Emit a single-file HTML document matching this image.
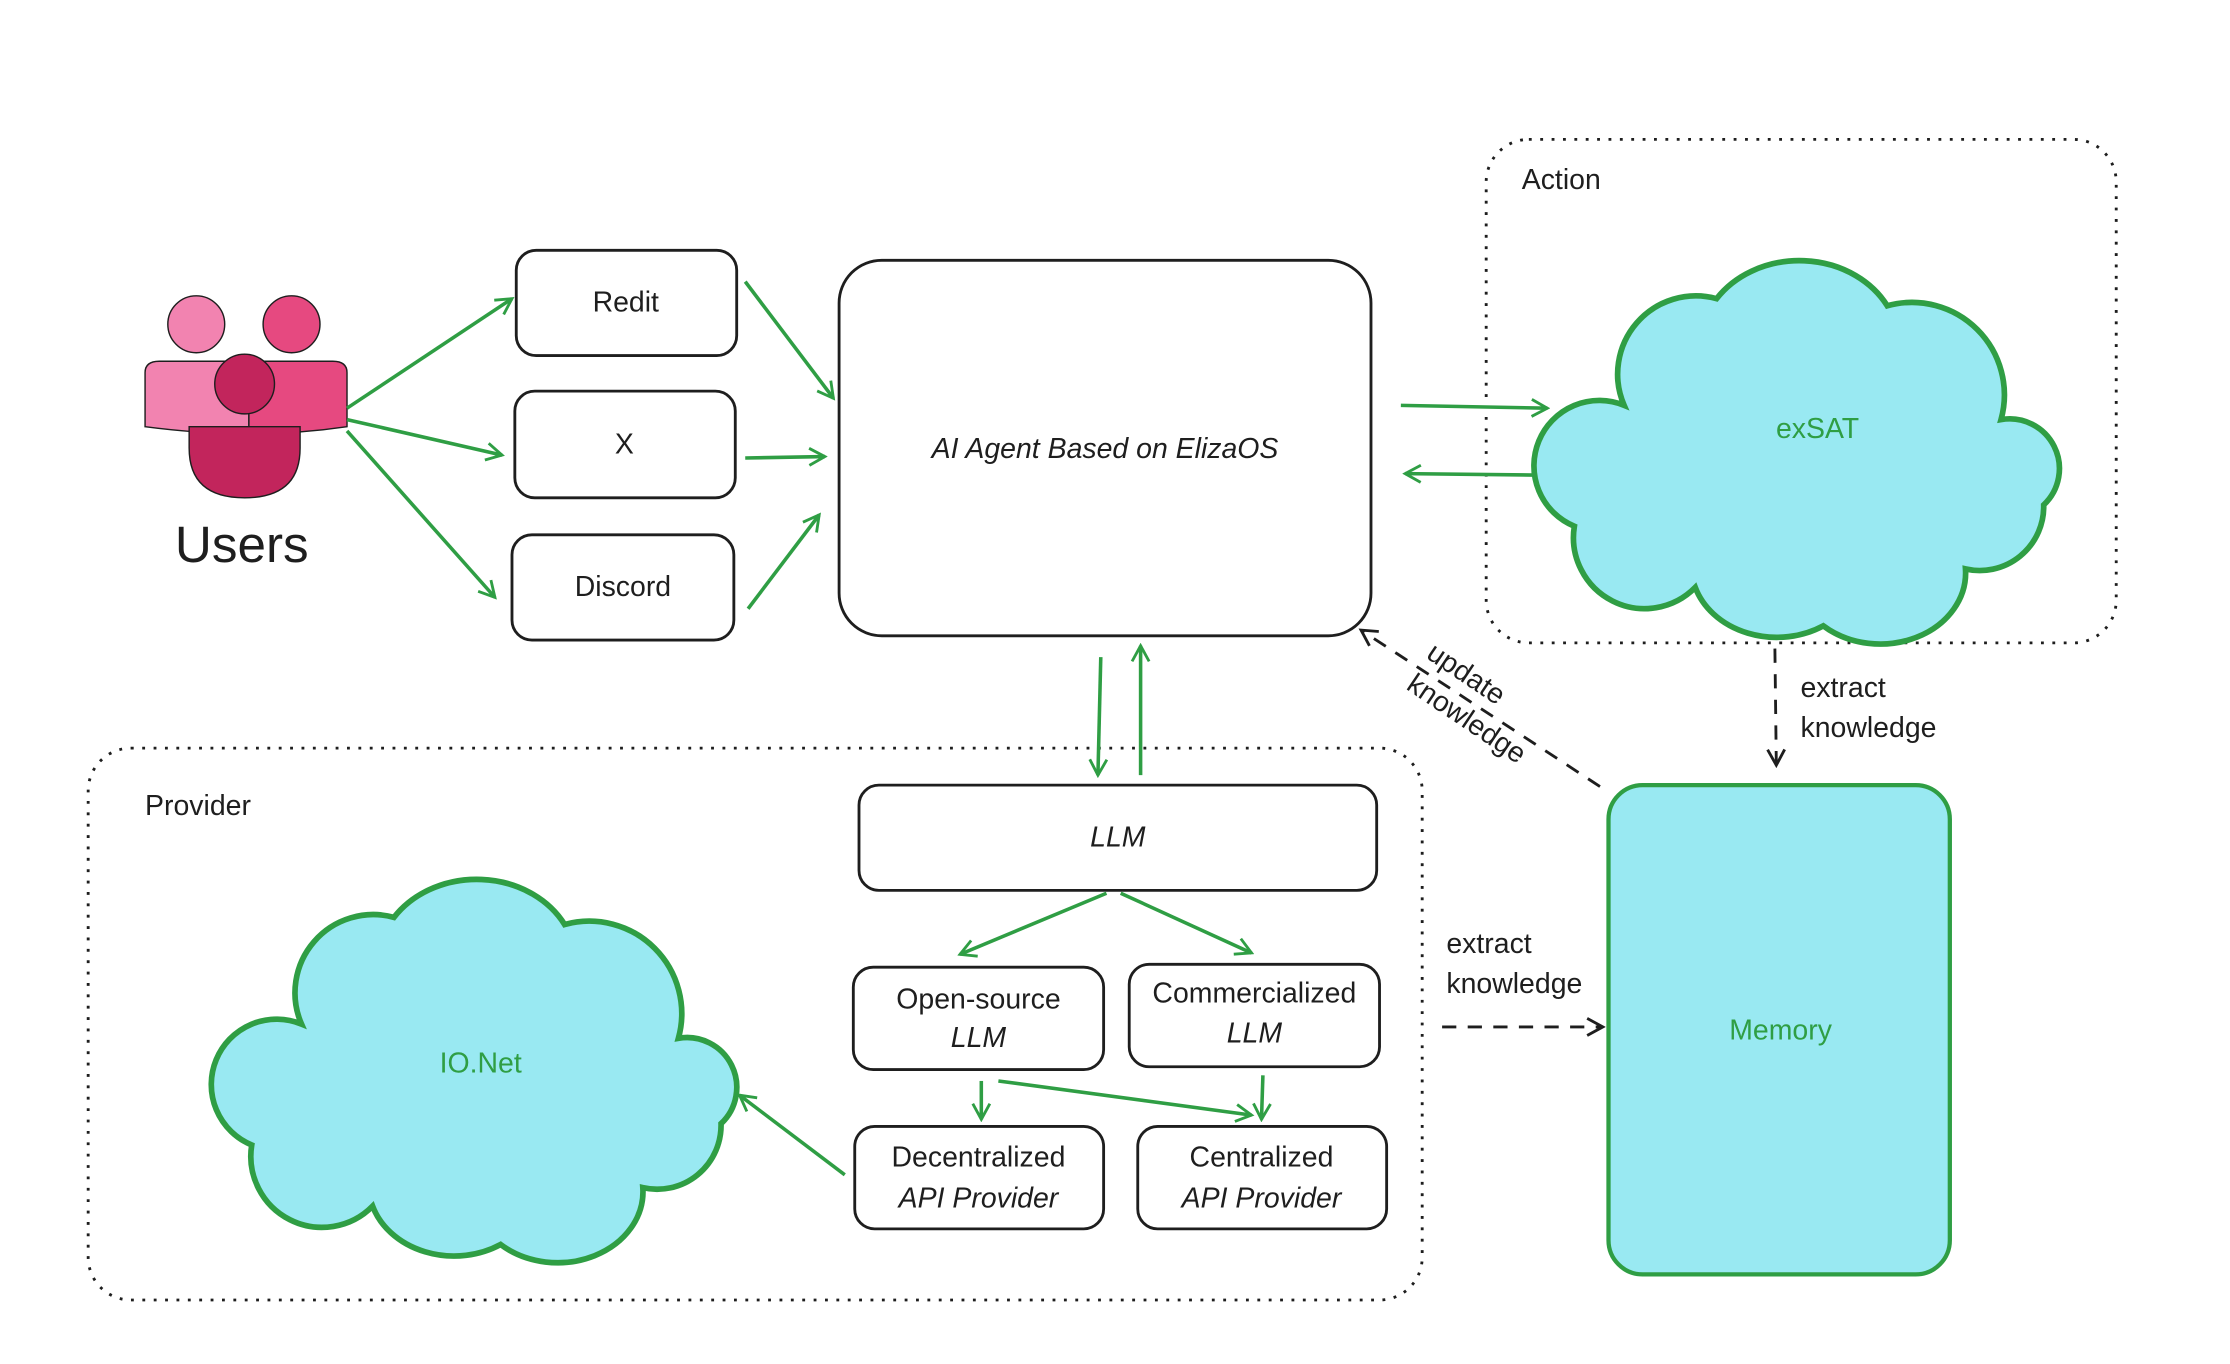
<!DOCTYPE html>
<html><head><meta charset="utf-8"><style>
html,body{margin:0;padding:0;background:#fff;}
svg{display:block;}
text{font-family:"Liberation Sans",sans-serif;fill:#1e1e1e;}
</style></head><body>
<svg width="2230" height="1364" viewBox="0 0 1568 959" preserveAspectRatio="none" xmlns="http://www.w3.org/2000/svg">
<defs>
<marker id="ag" markerWidth="14" markerHeight="14" refX="12" refY="7" orient="auto" markerUnits="userSpaceOnUse"><path d="M1,1 L12,7 L1,13" fill="none" stroke="#2f9e44" stroke-width="2"/></marker>
<marker id="ak" markerWidth="14" markerHeight="14" refX="12" refY="7" orient="auto" markerUnits="userSpaceOnUse"><path d="M1,1 L12,7 L1,13" fill="none" stroke="#1e1e1e" stroke-width="2"/></marker>
<path id="cloud" d="M60,100 A55 55 0 0 1 125,25 A70 60 0 0 1 245,30 A65 65 0 0 1 325,110 A35 35 0 0 1 355,170 A45 45 0 0 1 300,215 A60 50 0 0 1 200,255 A60 50 0 0 1 110,228 A50 50 0 0 1 25,185 A40 40 0 0 1 60,100 Z"/>
</defs>
<rect x="1045" y="98" width="443" height="354" rx="30" fill="none" stroke="#1e1e1e" stroke-width="2" stroke-dasharray="2 6"/>
<text x="1070" y="133" font-size="20">Action</text>
<rect x="62" y="526" width="938" height="388" rx="30" fill="none" stroke="#1e1e1e" stroke-width="2" stroke-dasharray="2 6"/>
<text x="102" y="573" font-size="20">Provider</text>
<circle cx="138" cy="228" r="20" fill="#f283b0" stroke="#1e1e1e" stroke-width="1"/>
<circle cx="205" cy="228" r="20" fill="#e64980" stroke="#1e1e1e" stroke-width="1"/>
<path d="M102,300 L102,262 Q102,254 112,254 L175,254 L175,305 Q140,305 102,300Z" fill="#f283b0" stroke="#1e1e1e" stroke-width="1"/>
<path d="M175,254 L234,254 Q244,254 244,262 L244,300 Q210,305 175,305Z" fill="#e64980" stroke="#1e1e1e" stroke-width="1"/>
<circle cx="172" cy="270" r="21" fill="#c2255c" stroke="#1e1e1e" stroke-width="1"/>
<path d="M133,300 L211,300 L211,315 Q211,350 172,350 Q133,350 133,315Z" fill="#c2255c" stroke="#1e1e1e" stroke-width="1"/>
<text x="170" y="395" font-size="36" text-anchor="middle">Users</text>
<g fill="#fff" stroke="#1e1e1e" stroke-width="2">
<rect x="363" y="176" width="155" height="74" rx="14"/>
<rect x="362" y="275" width="155" height="75" rx="14"/>
<rect x="360" y="376" width="156" height="74" rx="14"/>
<rect x="590" y="183" width="374" height="264" rx="30"/>
<rect x="604" y="552" width="364" height="74" rx="14"/>
<rect x="600" y="680" width="176" height="72" rx="14"/>
<rect x="794" y="678" width="176" height="72" rx="14"/>
<rect x="601" y="792" width="175" height="72" rx="14"/>
<rect x="800" y="792" width="175" height="72" rx="14"/>
</g>
<g font-size="20" text-anchor="middle">
<text x="440" y="219">Redit</text>
<text x="439" y="319">X</text>
<text x="438" y="419">Discord</text>
<text x="777" y="322" font-style="italic">AI Agent Based on ElizaOS</text>
<text x="786" y="595" font-style="italic">LLM</text>
<text x="688" y="709">Open-source</text><text x="688" y="736" font-style="italic">LLM</text>
<text x="882" y="705">Commercialized</text><text x="882" y="733" font-style="italic">LLM</text>
<text x="688" y="820">Decentralized</text><text x="688" y="849" font-style="italic">API Provider</text>
<text x="887" y="820">Centralized</text><text x="887" y="849" font-style="italic">API Provider</text>
</g>
<use href="#cloud" transform="translate(1082,185)" fill="#99e9f2" stroke="#2f9e44" stroke-width="4"/>
<text x="1278" y="308" font-size="20" text-anchor="middle" style="fill:#2f9e44">exSAT</text>
<use href="#cloud" transform="translate(152,620)" fill="#99e9f2" stroke="#2f9e44" stroke-width="4"/>
<text x="338" y="754" font-size="20" text-anchor="middle" style="fill:#2f9e44">IO.Net</text>
<rect x="1131" y="552" width="240" height="344" rx="24" fill="#99e9f2" stroke="#2f9e44" stroke-width="3"/>
<text x="1252" y="731" font-size="20" text-anchor="middle" style="fill:#2f9e44">Memory</text>
<g stroke="#2f9e44" stroke-width="2.5" fill="none" marker-end="url(#ag)">
<line x1="244" y1="287" x2="360" y2="210"/>
<line x1="244" y1="295" x2="353" y2="320"/>
<line x1="244" y1="303" x2="348" y2="420"/>
<line x1="524" y1="198" x2="586" y2="280"/>
<line x1="524" y1="322" x2="580" y2="321"/>
<line x1="526" y1="428" x2="576" y2="362"/>
<line x1="985" y1="285" x2="1088" y2="287"/>
<line x1="1078" y1="334" x2="988" y2="333"/>
<line x1="774" y1="462" x2="772" y2="545"/>
<line x1="802" y1="545" x2="802" y2="454"/>
<line x1="778" y1="628" x2="675" y2="671"/>
<line x1="788" y1="628" x2="880" y2="670"/>
<line x1="690" y1="760" x2="690" y2="787"/>
<line x1="888" y1="756" x2="887" y2="787"/>
<line x1="702" y1="760" x2="880" y2="784"/>
<line x1="594" y1="826" x2="520" y2="770"/>
</g>
<g stroke="#1e1e1e" stroke-width="2" fill="none" stroke-dasharray="10 8" marker-end="url(#ak)">
<line x1="1248" y1="456" x2="1249" y2="538"/>
<line x1="1014" y1="722" x2="1127" y2="722"/>
<line x1="1125" y1="553" x2="957" y2="443"/>
</g>
<g font-size="20">
<text x="1266" y="490">extract</text><text x="1266" y="518">knowledge</text>
<text x="1017" y="670">extract</text><text x="1017" y="698">knowledge</text>
<text transform="translate(1002,462) rotate(34)">update</text>
<text transform="translate(988,484) rotate(34)">knowledge</text>
</g>
</svg>
</body></html>
